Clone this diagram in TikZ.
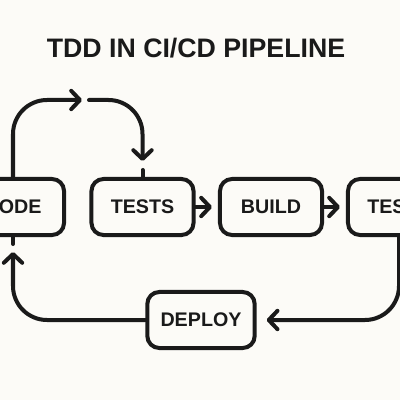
\documentclass[tikz,border=0pt]{standalone}
\usepackage{fontspec}
\setmainfont{Liberation Sans}
\usepackage{tikz}
\usetikzlibrary{arrows.meta}
\definecolor{paper}{RGB}{252,251,247}
\definecolor{ink}{RGB}{26,26,26}

\begin{document}
\begin{tikzpicture}[x=0.025cm, y=-0.025cm,
		stage/.style={draw=ink, line width=0.1cm, rounded corners=0.3cm, text=ink,
			minimum width=2.55cm, minimum height=1.4cm, inner xsep=0.33cm,
			font=\fontsize{14}{16}\selectfont\bfseries},
		wire/.style={draw=ink, line width=0.1cm, line cap=round},
		flow/.style={wire, -{Straight Barb[length=2.2mm, width=4.6mm, line cap=round, line join=round]}}]
		\fill [paper] (0, 0) rectangle (400, 400);
		\clip (0, 0) rectangle (400, 400);
		\useasboundingbox (0, 0) rectangle (400, 400);

		\node [text=ink, font=\fontsize{19}{22}\selectfont\bfseries] (title) at (196, 48) {TDD IN CI/CD PIPELINE};

		\node [stage] (code) at (13, 207) {CODE};
		\node [stage] (tests) at (142.5, 207) {TESTS};
		\node [stage] (build) at (271, 207) {BUILD};
		\node [stage] (ci) at (399, 207) {TESTS};
		\node [stage] (deploy) at (201, 320) {DEPLOY};
		\coordinate (turn) at (85, 100);

		\draw [flow, rounded corners=0.85cm, shorten >=0.075cm] (code.north) |- (turn);
		\draw [flow, rounded corners=0.85cm, shorten <=0.1cm, shorten >=0.4cm] (turn) -| (tests.north);
		\draw [wire] (tests.north) -- ++(0, -7);
		\draw [flow, shorten >=0.15cm] (tests) -- (build);
		\draw [flow, shorten >=0.15cm] (build) -- (ci);
		\draw [flow, rounded corners=0.85cm, shorten >=0.25cm] (ci.south) |- (deploy.east);
		\draw [flow, rounded corners=0.85cm, shorten >=0.375cm] (deploy.west) -| (code.south);
		\draw [wire] (code.south) -- ++(0, 7);
\end{tikzpicture}
\end{document}
